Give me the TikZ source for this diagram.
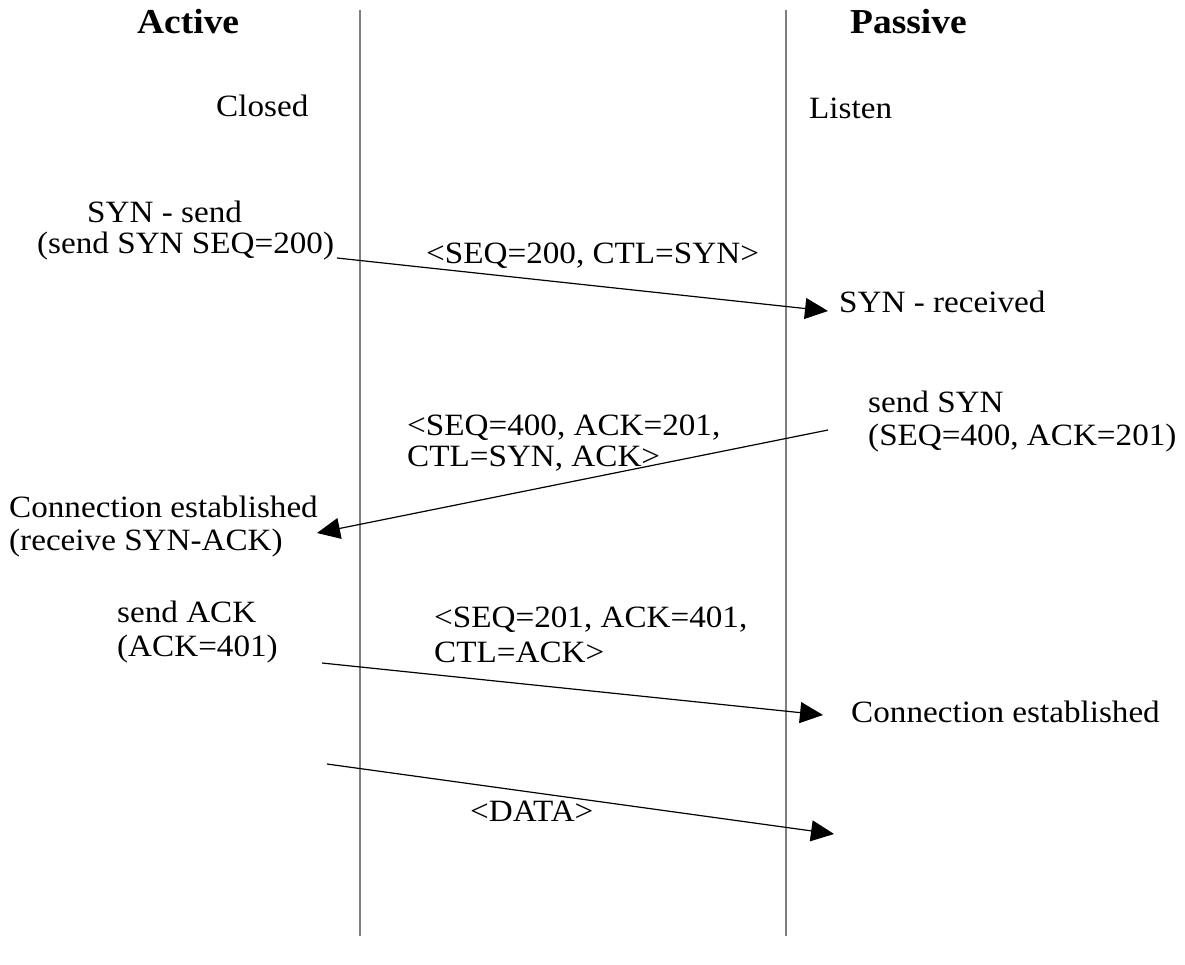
\documentclass[tikz,border=0pt]{standalone}
\usepackage{fontspec}
\setmainfont[FakeStretch=1.07]{Liberation Serif}
\usetikzlibrary{arrows.meta}
\definecolor{lanegray}{HTML}{7F7F7F}
\tikzset{
  lbl/.style={anchor=base west, inner sep=0pt, font=\fontsize{31pt}{33pt}\selectfont},
  hdr/.style={anchor=base west, inner sep=0pt, font=\fontsize{35pt}{38pt}\selectfont\bfseries},
  lane/.style={draw=lanegray, line width=2pt},
  msg/.style={draw=black, line width=1.2pt, -{Triangle[length=23pt,width=21pt]}}
}
\begin{document}
\begin{tikzpicture}[x=1pt,y=-1pt]
\useasboundingbox (0,0) rectangle (1185,964);
% lifelines
\coordinate (l1t) at (360,10); \coordinate (l1b) at (360,936);
\coordinate (l2t) at (786,10); \coordinate (l2b) at (786,936);
\draw[lane] (l1t) -- (l1b);
\draw[lane] (l2t) -- (l2b);
% headers
\node[hdr] (active) at (137,33) {Active};
\node[hdr] (passive) at (850,33) {Passive};
\node[lbl] (closed) at (216,116) {Closed};
\node[lbl] (listen) at (809,118) {Listen};
% step 1
\node[lbl] (synsend) at (87,222) {SYN - send};
\node[lbl] (synsend2) at (37,253) {(send SYN SEQ=200)};
\node[lbl] (m1) at (426,263) {<SEQ=200, CTL=SYN>};
\node[lbl] (synrec) at (839,312) {SYN - received};
\coordinate (a1s) at (337,258); \coordinate (a1e) at (828,311);
\draw[msg] (a1s) -- (a1e);
% step 2
\node[lbl] (sendsyn) at (868,412) {send SYN};
\node[lbl] (sendsyn2) at (868,445) {(SEQ=400, ACK=201)};
\node[lbl] (m2a) at (407,435) {<SEQ=400, ACK=201,};
\node[lbl] (m2b) at (407,466) {CTL=SYN, ACK>};
\node[lbl] (conn1) at (9,517) {Connection established};
\node[lbl] (conn1b) at (9,550) {(receive SYN-ACK)};
\coordinate (a2s) at (828,430); \coordinate (a2e) at (317,533);
\draw[msg] (a2s) -- (a2e);
% step 3
\node[lbl] (sendack) at (117,622) {send ACK};
\node[lbl] (sendack2) at (117,656) {(ACK=401)};
\node[lbl] (m3a) at (434,627) {<SEQ=201, ACK=401,};
\node[lbl] (m3b) at (434,662) {CTL=ACK>};
\node[lbl] (conn2) at (851,722) {Connection established};
\coordinate (a3s) at (322,663); \coordinate (a3e) at (823,715);
\draw[msg] (a3s) -- (a3e);
% data
\node[lbl] (data) at (470,821) {<DATA>};
\coordinate (a4s) at (327,764); \coordinate (a4e) at (834,834);
\draw[msg] (a4s) -- (a4e);
\end{tikzpicture}
\end{document}
